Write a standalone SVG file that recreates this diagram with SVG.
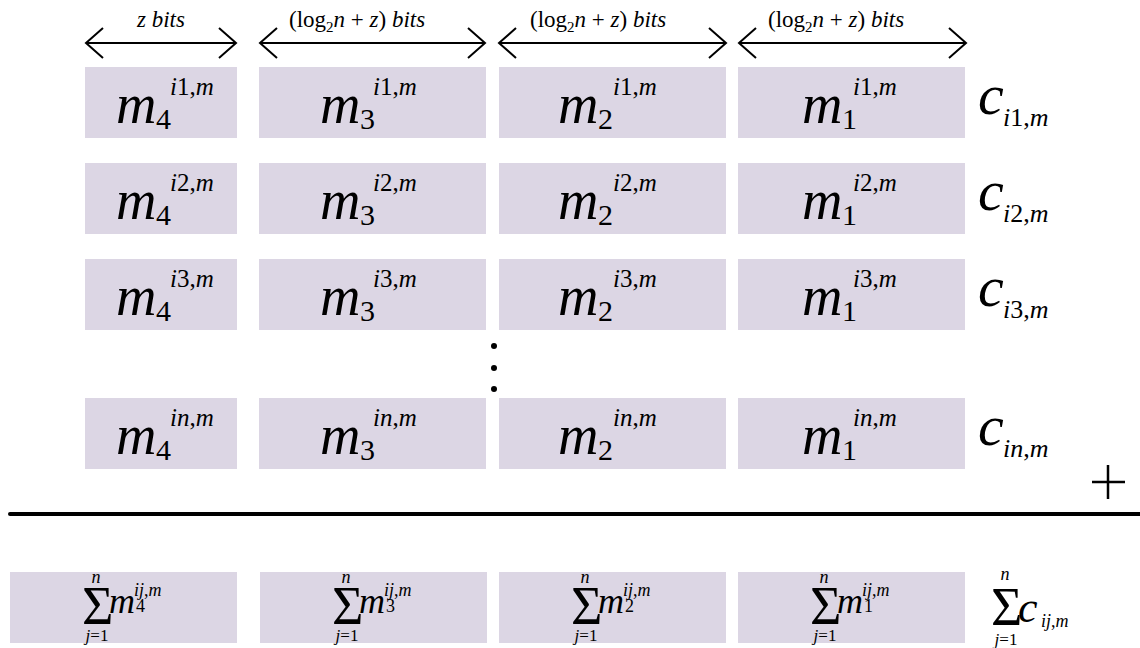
<svg xmlns="http://www.w3.org/2000/svg" width="1140" height="648" viewBox="0 0 1140 648">
<style>
text{font-family:"Liberation Serif","DejaVu Serif","Times New Roman",serif;fill:#000}
.box{fill:#dcd6e4}
.m{font-size:56px;font-style:italic}
.sub{font-size:30px}
.sup{font-size:25px;font-style:italic}
.c{font-size:58px;font-style:italic}
.csub{font-size:26px;font-style:italic}
.rm{font-style:normal}
.lbl{font-size:23px}
.lsub{font-size:15px}
.it{font-style:italic}
.sig{font-size:54px}
.lim{font-size:17px;text-anchor:middle}
.sm{font-size:36px;font-style:italic}
.ssup{font-size:18px;font-style:italic}
.ssub{font-size:18px}
.arr{stroke:#000;stroke-width:2;fill:none}
</style>
<defs>
<marker id="chev" markerUnits="userSpaceOnUse" markerWidth="22" markerHeight="36" refX="19" refY="17" orient="auto-start-reverse">
<path d="M2,2 L19,17 L2,32" fill="none" stroke="#000" stroke-width="2"/>
</marker>
</defs>

<g id="connectors">
<line class="arr" x1="86" y1="43" x2="236" y2="43" marker-start="url(#chev)" marker-end="url(#chev)"/>
<line class="arr" x1="260" y1="43" x2="485" y2="43" marker-start="url(#chev)" marker-end="url(#chev)"/>
<line class="arr" x1="499" y1="43" x2="726" y2="43" marker-start="url(#chev)" marker-end="url(#chev)"/>
<line class="arr" x1="739" y1="43" x2="966" y2="43" marker-start="url(#chev)" marker-end="url(#chev)"/>
<line x1="10" y1="514" x2="1140" y2="514" stroke="#000" stroke-width="4" stroke-linecap="round"/>
</g>

<g id="labels">
<text class="lbl" x="161" y="27" text-anchor="middle"><tspan class="it">z bits</tspan></text>
<text class="lbl" x="289" y="27">(log<tspan class="lsub" dy="5">2</tspan><tspan class="it" dy="-5">n</tspan> + <tspan class="it">z</tspan>) <tspan class="it">bits</tspan></text>
<text class="lbl" x="530" y="27">(log<tspan class="lsub" dy="5">2</tspan><tspan class="it" dy="-5">n</tspan> + <tspan class="it">z</tspan>) <tspan class="it">bits</tspan></text>
<text class="lbl" x="768" y="27">(log<tspan class="lsub" dy="5">2</tspan><tspan class="it" dy="-5">n</tspan> + <tspan class="it">z</tspan>) <tspan class="it">bits</tspan></text>
</g>

<!-- row 1 -->
<g id="r1c4"><rect class="box" x="85" y="67" width="152" height="71"/><text class="m" x="116" y="123">m</text><text class="sub" x="156" y="129">4</text><text class="sup" x="170" y="95">i<tspan class="rm">1,</tspan>m</text></g>
<g id="r1c3"><rect class="box" x="259" y="67" width="227" height="71"/><text class="m" x="320" y="123">m</text><text class="sub" x="360" y="129">3</text><text class="sup" x="373" y="95">i<tspan class="rm">1,</tspan>m</text></g>
<g id="r1c2"><rect class="box" x="499" y="67" width="227" height="71"/><text class="m" x="558" y="123">m</text><text class="sub" x="598" y="129">2</text><text class="sup" x="613" y="95">i<tspan class="rm">1,</tspan>m</text></g>
<g id="r1c1"><rect class="box" x="738" y="67" width="227" height="71"/><text class="m" x="802" y="123">m</text><text class="sub" x="842" y="129">1</text><text class="sup" x="853" y="95">i<tspan class="rm">1,</tspan>m</text></g>
<g id="r1c"><text class="c" x="978" y="114">c</text><text class="csub" x="1003" y="126">i<tspan class="rm">1,</tspan>m</text></g>

<!-- row 2 -->
<g id="r2c4"><rect class="box" x="85" y="163" width="152" height="71"/><text class="m" x="116" y="219">m</text><text class="sub" x="156" y="225">4</text><text class="sup" x="170" y="191">i<tspan class="rm">2,</tspan>m</text></g>
<g id="r2c3"><rect class="box" x="259" y="163" width="227" height="71"/><text class="m" x="320" y="219">m</text><text class="sub" x="360" y="225">3</text><text class="sup" x="373" y="191">i<tspan class="rm">2,</tspan>m</text></g>
<g id="r2c2"><rect class="box" x="499" y="163" width="227" height="71"/><text class="m" x="558" y="219">m</text><text class="sub" x="598" y="225">2</text><text class="sup" x="613" y="191">i<tspan class="rm">2,</tspan>m</text></g>
<g id="r2c1"><rect class="box" x="738" y="163" width="227" height="71"/><text class="m" x="802" y="219">m</text><text class="sub" x="842" y="225">1</text><text class="sup" x="853" y="191">i<tspan class="rm">2,</tspan>m</text></g>
<g id="r2c"><text class="c" x="978" y="210">c</text><text class="csub" x="1003" y="222">i<tspan class="rm">2,</tspan>m</text></g>

<!-- row 3 -->
<g id="r3c4"><rect class="box" x="85" y="259" width="152" height="71"/><text class="m" x="116" y="315">m</text><text class="sub" x="156" y="321">4</text><text class="sup" x="170" y="287">i<tspan class="rm">3,</tspan>m</text></g>
<g id="r3c3"><rect class="box" x="259" y="259" width="227" height="71"/><text class="m" x="320" y="315">m</text><text class="sub" x="360" y="321">3</text><text class="sup" x="373" y="287">i<tspan class="rm">3,</tspan>m</text></g>
<g id="r3c2"><rect class="box" x="499" y="259" width="227" height="71"/><text class="m" x="558" y="315">m</text><text class="sub" x="598" y="321">2</text><text class="sup" x="613" y="287">i<tspan class="rm">3,</tspan>m</text></g>
<g id="r3c1"><rect class="box" x="738" y="259" width="227" height="71"/><text class="m" x="802" y="315">m</text><text class="sub" x="842" y="321">1</text><text class="sup" x="853" y="287">i<tspan class="rm">3,</tspan>m</text></g>
<g id="r3c"><text class="c" x="978" y="306">c</text><text class="csub" x="1003" y="318">i<tspan class="rm">3,</tspan>m</text></g>

<g id="dots"><circle cx="494" cy="346" r="3"/><circle cx="494" cy="368" r="3"/><circle cx="494" cy="389" r="3"/></g>

<!-- row n -->
<g id="rnc4"><rect class="box" x="85" y="398" width="152" height="71"/><text class="m" x="116" y="454">m</text><text class="sub" x="156" y="460">4</text><text class="sup" x="170" y="426">in<tspan class="rm">,</tspan>m</text></g>
<g id="rnc3"><rect class="box" x="259" y="398" width="227" height="71"/><text class="m" x="320" y="454">m</text><text class="sub" x="360" y="460">3</text><text class="sup" x="373" y="426">in<tspan class="rm">,</tspan>m</text></g>
<g id="rnc2"><rect class="box" x="499" y="398" width="227" height="71"/><text class="m" x="558" y="454">m</text><text class="sub" x="598" y="460">2</text><text class="sup" x="613" y="426">in<tspan class="rm">,</tspan>m</text></g>
<g id="rnc1"><rect class="box" x="738" y="398" width="227" height="71"/><text class="m" x="802" y="454">m</text><text class="sub" x="842" y="460">1</text><text class="sup" x="853" y="426">in<tspan class="rm">,</tspan>m</text></g>
<g id="rnc"><text class="c" x="978" y="445">c</text><text class="csub" x="1003" y="457">in<tspan class="rm">,</tspan>m</text></g>

<g id="plus"><line x1="1092" y1="482" x2="1125" y2="482" stroke="#000" stroke-width="2.5"/><line x1="1108" y1="465" x2="1108" y2="499" stroke="#000" stroke-width="2.5"/></g>

<!-- sums -->
<g id="s4"><rect class="box" x="10" y="572" width="227" height="71"/><text class="sig" x="82" y="624">Σ</text><text class="ssup" x="96" y="583" text-anchor="middle">n</text><text class="lim" x="97" y="641"><tspan class="it">j</tspan>=1</text><text class="sm" x="109" y="613">m</text><text class="ssup" x="134" y="596">ij<tspan class="rm">,</tspan>m</text><text class="ssub" x="136" y="612">4</text></g>
<g id="s3"><rect class="box" x="260" y="572" width="227" height="71"/><text class="sig" x="332" y="624">Σ</text><text class="ssup" x="346" y="583" text-anchor="middle">n</text><text class="lim" x="347" y="641"><tspan class="it">j</tspan>=1</text><text class="sm" x="359" y="613">m</text><text class="ssup" x="384" y="596">ij<tspan class="rm">,</tspan>m</text><text class="ssub" x="386" y="612">3</text></g>
<g id="s2"><rect class="box" x="499" y="572" width="227" height="71"/><text class="sig" x="571" y="624">Σ</text><text class="ssup" x="585" y="583" text-anchor="middle">n</text><text class="lim" x="586" y="641"><tspan class="it">j</tspan>=1</text><text class="sm" x="598" y="613">m</text><text class="ssup" x="623" y="596">ij<tspan class="rm">,</tspan>m</text><text class="ssub" x="625" y="612">2</text></g>
<g id="s1"><rect class="box" x="738" y="572" width="227" height="71"/><text class="sig" x="810" y="624">Σ</text><text class="ssup" x="824" y="583" text-anchor="middle">n</text><text class="lim" x="825" y="641"><tspan class="it">j</tspan>=1</text><text class="sm" x="837" y="613">m</text><text class="ssup" x="862" y="596">ij<tspan class="rm">,</tspan>m</text><text class="ssub" x="864" y="612">1</text></g>
<g id="sc"><text class="sig" x="991" y="625">Σ</text><text class="ssup" x="1005" y="580" text-anchor="middle">n</text><text class="lim" x="1006" y="645"><tspan class="it">j</tspan>=1</text><text class="c" x="1018" y="622" style="font-size:44px">c</text><text class="ssup" x="1041" y="627">ij<tspan class="rm">,</tspan>m</text></g>
</svg>
